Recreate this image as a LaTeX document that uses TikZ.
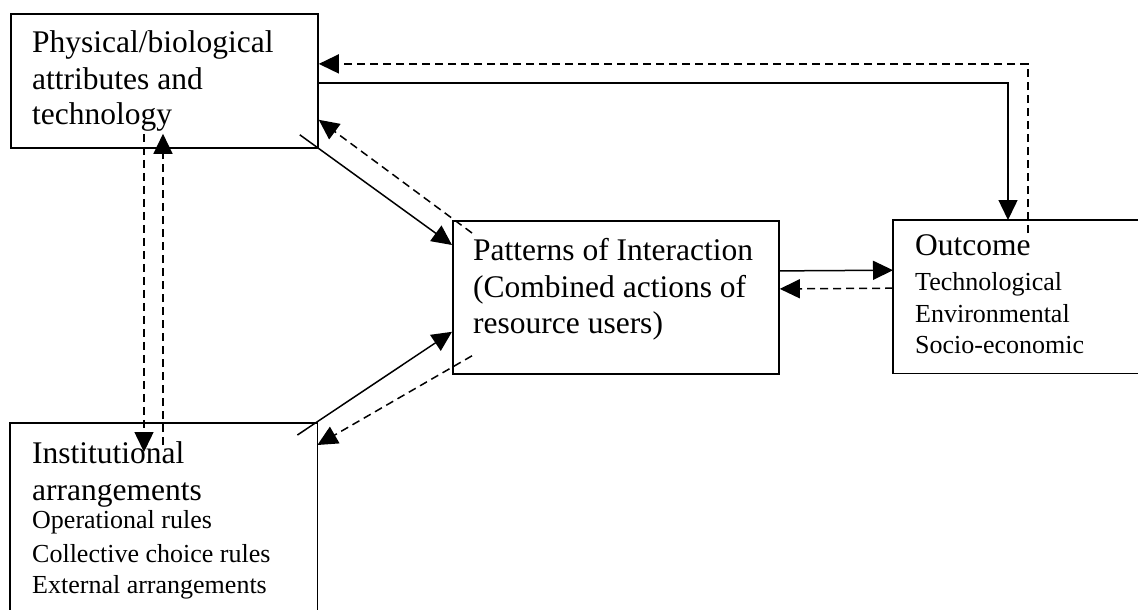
\documentclass[tikz,border=0pt]{standalone}
\usepackage{fontspec}
\setmainfont{Liberation Serif}
\usetikzlibrary{arrows.meta,calc}
\tikzset{
  box/.style={draw, line width=1.8pt, anchor=north west, inner sep=0pt},
  openbox/.style={anchor=north west, inner sep=0pt},
  boxline/.style={line width=1.8pt},
  big/.style={anchor=base west, inner sep=0pt, font=\fontsize{31.5}{36}\selectfont},
  small/.style={anchor=base west, inner sep=0pt, font=\fontsize{26}{30}\selectfont},
  conn/.style={line width=1.5pt, -{Triangle[length=20pt,width=19pt]}},
  solidarrow/.style={conn},
  dasharrow/.style={conn, dash pattern=on 8pt off 5pt}
}
\begin{document}
\begin{tikzpicture}[x=1pt,y=-1pt]
\useasboundingbox (0,0) rectangle (1138,610);
\fill[white] (0,0) rectangle (1138,610);
% boxes
\node[box, minimum width=307pt, minimum height=134pt] (phys) at (10,13) {};
\node[openbox, minimum width=307pt, minimum height=190pt] (inst) at (10,423) {};
\node[box, minimum width=326pt, minimum height=153pt] (pat) at (452,220) {};
\node[openbox, minimum width=245pt, minimum height=153pt] (out) at (893,220) {};
\draw[boxline] (inst.south west) -- (inst.north west) -- (inst.north east) -- (inst.south east);
\draw[boxline] (out.north east) -- (out.north west) -- (out.south west) -- (out.south east);
% texts
\node[big] (p1) at (32,53) {Physical/biological};
\node[big] (p2) at (32,89) {attributes and};
\node[big] (p3) at (32,124) {technology};
\node[big] (i1) at (32,463) {Institutional};
\node[big] (i2) at (32,500) {arrangements};
\node[small] (i3) at (32,528) {Operational rules};
\node[small] (i4) at (32,562) {Collective choice rules};
\node[small] (i5) at (32,593) {External arrangements};
\node[big] (t1) at (473,260) {Patterns of Interaction};
\node[big] (t2) at (473,297) {(Combined actions of};
\node[big] (t3) at (473,333) {resource users)};
\node[big] (o1) at (915,255) {Outcome};
\node[small] (o2) at (915,290) {Technological};
\node[small] (o3) at (915,322) {Environmental};
\node[small] (o4) at (915,353) {Socio-economic};
% coordinates for free ends
\coordinate (s1) at ($(phys.south east)+(-19,-14)$);
\coordinate (s2) at ($(pat.north west)+(20,13)$);
\coordinate (s3) at ($(inst.north east)+(-20,12)$);
\coordinate (s4) at ($(pat.south west)+(20,-19)$);
\coordinate (s5) at ($(phys.south west)+(134,-15)$);
\coordinate (s6) at ($(inst.north west)+(153,22)$);
\coordinate (s7) at ($(out.north west)+(135,13)$);
% connectors
\draw[solidarrow] ([yshift=-2pt]phys.east) -| ($(out.north west)+(115,0)$);
\draw[dasharrow] (s7) |- ([yshift=17pt]phys.east);
\draw[solidarrow] (s1) -- ($(pat.north west)+(0,25)$);
\draw[dasharrow] (s2) -- ($(phys.south east)+(0,-29)$);
\draw[solidarrow] (s3) -- ($(pat.south west)+(0,-43)$);
\draw[dasharrow] (s4) -- ($(inst.north east)+(0,22)$);
\draw[dasharrow] (s5) -- ($(inst.north west)+(134,29)$);
\draw[dasharrow] (s6) -- ($(phys.south west)+(153,-15)$);
\draw[solidarrow] ([yshift=26.5pt]pat.east) -- ([yshift=26.5pt]out.west);
\draw[dasharrow] ([yshift=8.5pt]out.west) -- ([yshift=8.5pt]pat.east);
\end{tikzpicture}
\end{document}
